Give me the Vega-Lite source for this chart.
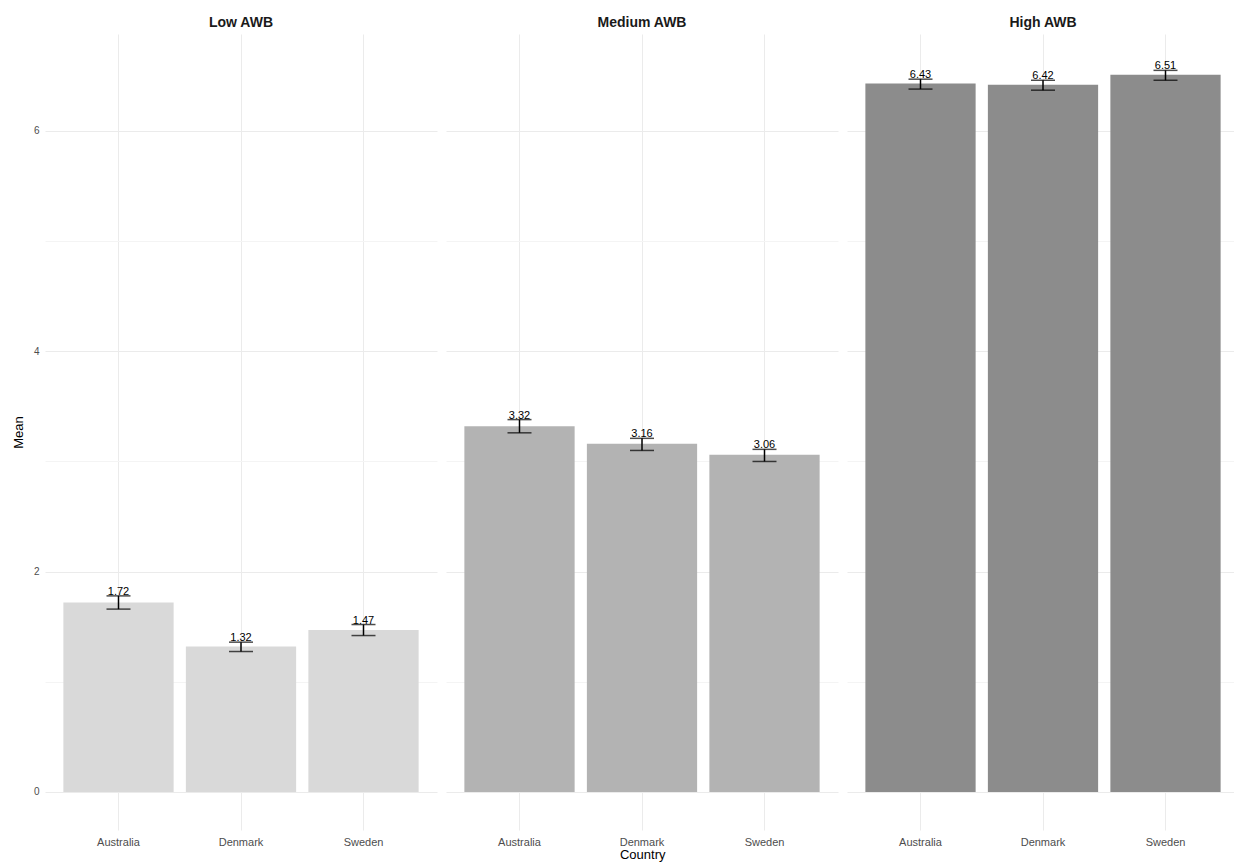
{
  "$schema": "https://vega.github.io/schema/vega-lite/v6.json",
  "padding": {"left": 12, "top": 16, "right": 0, "bottom": 0},
  "background": "white",
  "config": {"view": {"stroke": null}, "font": "Liberation Sans"},
  "title": {"text": "Country", "orient": "bottom", "anchor": "middle", "fontSize": 13, "fontWeight": "normal", "color": "#000000", "offset": 2, "dx": 17},
  "data": {"values": [
    {"group": "Low AWB", "country": "Australia", "mean": 1.72, "lower": 1.66, "upper": 1.78},
    {"group": "Low AWB", "country": "Denmark", "mean": 1.32, "lower": 1.275, "upper": 1.36},
    {"group": "Low AWB", "country": "Sweden", "mean": 1.47, "lower": 1.42, "upper": 1.52},
    {"group": "Medium AWB", "country": "Australia", "mean": 3.32, "lower": 3.26, "upper": 3.38},
    {"group": "Medium AWB", "country": "Denmark", "mean": 3.16, "lower": 3.1, "upper": 3.21},
    {"group": "Medium AWB", "country": "Sweden", "mean": 3.06, "lower": 3.0, "upper": 3.11},
    {"group": "High AWB", "country": "Australia", "mean": 6.43, "lower": 6.38, "upper": 6.47},
    {"group": "High AWB", "country": "Denmark", "mean": 6.42, "lower": 6.37, "upper": 6.46},
    {"group": "High AWB", "country": "Sweden", "mean": 6.51, "lower": 6.46, "upper": 6.55}
  ]},
  "facet": {"column": {"field": "group", "type": "nominal", "sort": ["Low AWB", "Medium AWB", "High AWB"],
    "header": {"title": null, "labelFontSize": 14, "labelFontWeight": "bold", "labelColor": "#1a1a1a", "labelPadding": 4}}},
  "spacing": 9,
  "spec": {
    "width": 392,
    "height": 796,
    "encoding": {
      "x": {"field": "country", "type": "nominal", "title": null,
        "scale": {"paddingInner": 0.1, "paddingOuter": 0.15},
        "axis": {"labelAngle": 0, "ticks": false, "domain": false, "grid": true, "gridColor": "#ebebeb", "bandPosition": 0.5, "labelFontSize": 11, "labelColor": "#4d4d4d", "labelPadding": 6}}
    },
    "layer": [
      {"mark": {"type": "bar"},
       "encoding": {
         "y": {"field": "mean", "type": "quantitative", "title": "Mean",
           "scale": {"domain": [-0.345, 6.88], "nice": false, "zero": false},
           "axis": {"values": [0, 1, 2, 3, 4, 5, 6], "format": "d", "labelExpr": "datum.value % 2 === 0 ? datum.label : ''", "ticks": false, "domain": false,
             "gridColor": {"condition": {"test": "datum.value % 2 === 0", "value": "#ebebeb"}, "value": "#f4f4f4"},
             "labelFontSize": 10, "labelColor": "#4d4d4d", "labelPadding": 6, "titleFontSize": 13, "titleFontWeight": "normal", "titleColor": "#000000", "titlePadding": 8}},
         "y2": {"datum": 0},
         "color": {"field": "group", "type": "nominal", "scale": {"domain": ["Low AWB", "Medium AWB", "High AWB"], "range": ["#d9d9d9", "#b3b3b3", "#8c8c8c"]}, "legend": null}
       }},
      {"mark": {"type": "rule", "color": "#000000", "strokeWidth": 1.5},
       "encoding": {"y": {"field": "lower", "type": "quantitative", "title": "Mean"}, "y2": {"field": "upper"}}},
      {"mark": {"type": "tick", "color": "#000000", "thickness": 1.5, "size": 24},
       "encoding": {"y": {"field": "lower", "type": "quantitative", "title": "Mean"}}},
      {"mark": {"type": "tick", "color": "#000000", "thickness": 1.5, "size": 24},
       "encoding": {"y": {"field": "upper", "type": "quantitative", "title": "Mean"}}},
      {"mark": {"type": "text", "baseline": "alphabetic", "dy": -1, "fontSize": 11, "color": "#000000"},
       "encoding": {"y": {"field": "upper", "type": "quantitative", "title": "Mean"}, "text": {"field": "mean", "type": "quantitative", "format": ".2f"}}}
    ]
  }
}
